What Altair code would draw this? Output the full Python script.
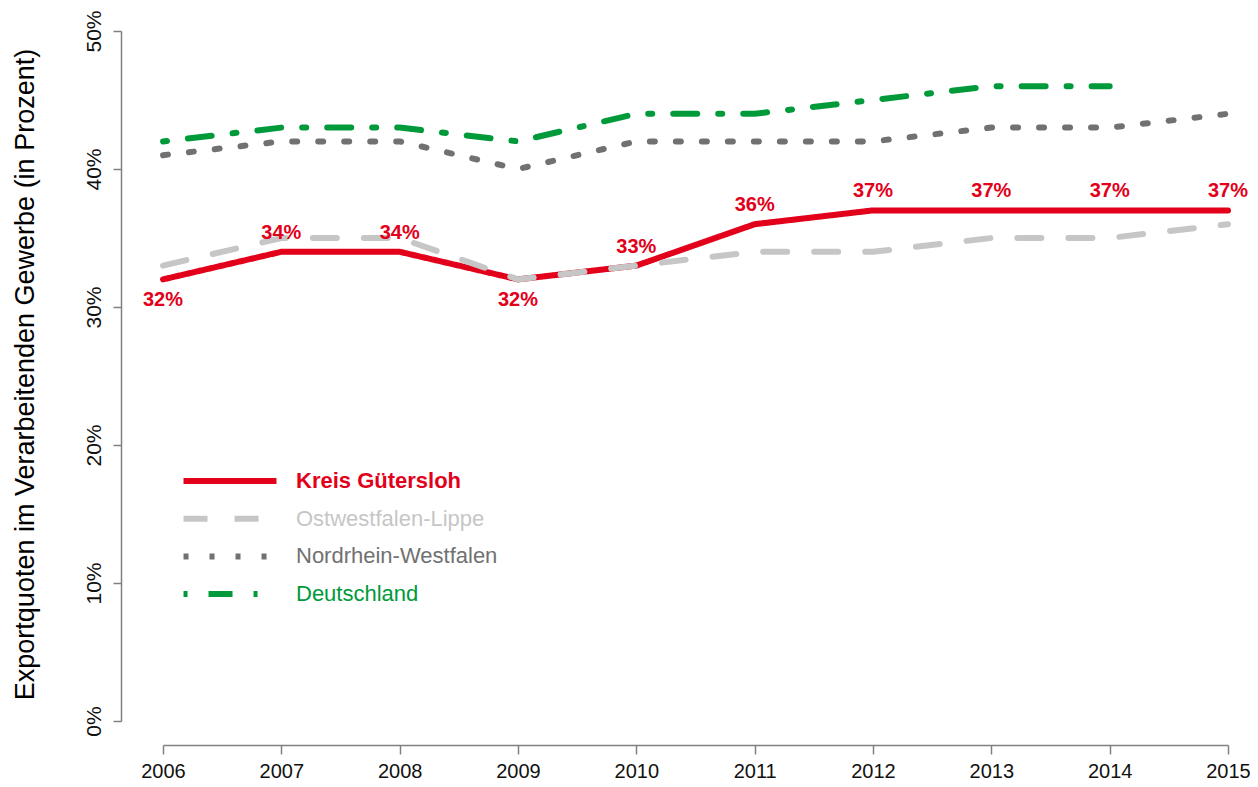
import altair as alt
import pandas as pd

years = list(range(2006, 2016))
kreis = [32, 34, 34, 32, 33, 36, 37, 37, 37, 37]
owl = [33, 35, 35, 32, 33, 34, 34, 35, 35, 36]
nrw = [41, 42, 42, 40, 42, 42, 42, 43, 43, 44]
de = [42, 43, 43, 42, 44, 44, 45, 46, 46, None]

series_names = ["Kreis Gütersloh", "Ostwestfalen-Lippe", "Nordrhein-Westfalen", "Deutschland"]
series_values = [kreis, owl, nrw, de]
series_colors = ["#e2001a", "#c6c6c6", "#717171", "#009a3a"]
series_dashes = [[1, 0], [24, 27], [5, 21], [4, 21, 24, 21]]
label_side = ["below", "above", "above", "below", "above", "above", "above", "above", "above", "above"]
y_ticks = [0, 0.1, 0.2, 0.3, 0.4, 0.5]
x_ticks = years

FONT = "Liberation Sans"

rows = []
for name, vals in zip(series_names, series_values):
    for yr, v in zip(years, vals):
        if v is not None:
            rows.append({"Jahr": yr, "Wert": v / 100.0, "Region": name})
df = pd.DataFrame(rows)

lab = pd.DataFrame({"Jahr": years, "Wert": [v / 100.0 for v in kreis], "side": label_side})

color_expr = ""
for n, c in zip(series_names, series_colors):
    color_expr += f"datum.value == '{n}' ? '{c}' : "
color_expr += "'#000'"
weight_expr = f"datum.value == '{series_names[0]}' ? 'bold' : 'normal'"

legend = alt.Legend(
    title=None,
    orient="none",
    legendX=52,
    legendY=435,
    symbolType="M-4,0H4",
    symbolSize=540,
    symbolStrokeWidth=6,
    labelFont=FONT,
    labelFontSize=22,
    labelOffset=51,
    labelLimit=0,
    rowPadding=10.7,
    padding=0,
    labelColor={"expr": color_expr},
    labelFontWeight={"expr": weight_expr},
)

x_enc = alt.X(
    "Jahr:Q",
    scale=alt.Scale(domain=[2006, 2015], nice=False, zero=False),
    axis=alt.Axis(
        values=x_ticks, format="d", title=None, grid=False, offset=24,
        tickSize=9, labelPadding=7, labelFlush=False, labelOverlap=False,
        labelFont=FONT, labelFontSize=20, labelColor="#111",
        domainColor="#808080", tickColor="#808080", domainWidth=1.5, tickWidth=1.5,
    ),
)
y_enc = alt.Y(
    "Wert:Q",
    scale=alt.Scale(domain=[0, 0.5], nice=False),
    axis=alt.Axis(
        values=y_ticks, format=".0%", grid=False, offset=42,
        tickSize=8, labelPadding=13, labelAngle=270, labelAlign="center",
        labelBaseline="alphabetic", labelFont=FONT, labelFontSize=21, labelColor="#111",
        domainColor="#808080", tickColor="#808080", domainWidth=1.5, tickWidth=1.5,
        title="Exportquoten im Verarbeitenden Gewerbe (in Prozent)",
        titleFont=FONT, titleFontSize=27, titleFontWeight="normal", titleColor="#000",
        titleAngle=270, titleAlign="center", titleBaseline="alphabetic",
        titleX=-88, titleY=343,
    ),
)

color_enc = alt.Color("Region:N", scale=alt.Scale(domain=series_names, range=series_colors), legend=legend)
dash_enc = alt.StrokeDash("Region:N", scale=alt.Scale(domain=series_names, range=series_dashes), legend=legend)

layers = []
for name in series_names:
    layers.append(
        alt.Chart(df)
        .transform_filter(alt.datum.Region == name)
        .mark_line(strokeWidth=6, strokeCap="round")
        .encode(x=x_enc, y=y_enc, color=color_enc, strokeDash=dash_enc)
    )

text_base = alt.Chart(lab).encode(
    x=alt.X("Jahr:Q"), y=alt.Y("Wert:Q"), text=alt.Text("Wert:Q", format=".0%")
)
above = text_base.transform_filter(alt.datum.side == "above").mark_text(
    dy=-19, font=FONT, fontSize=20, fontWeight="bold", color="#e2001a", baseline="middle"
)
below = text_base.transform_filter(alt.datum.side == "below").mark_text(
    dy=21, font=FONT, fontSize=20, fontWeight="bold", color="#e2001a", baseline="middle"
)

chart = (
    alt.layer(*layers, above, below)
    .properties(
        width=1065,
        height=690,
        autosize=alt.AutoSizeParams(type="none"),
        padding={"left": 155, "top": 23, "right": 22, "bottom": 60},
    )
    .configure_view(stroke=None)
)

chart.save("out.html", embed_options={"renderer": "svg", "actions": False})
